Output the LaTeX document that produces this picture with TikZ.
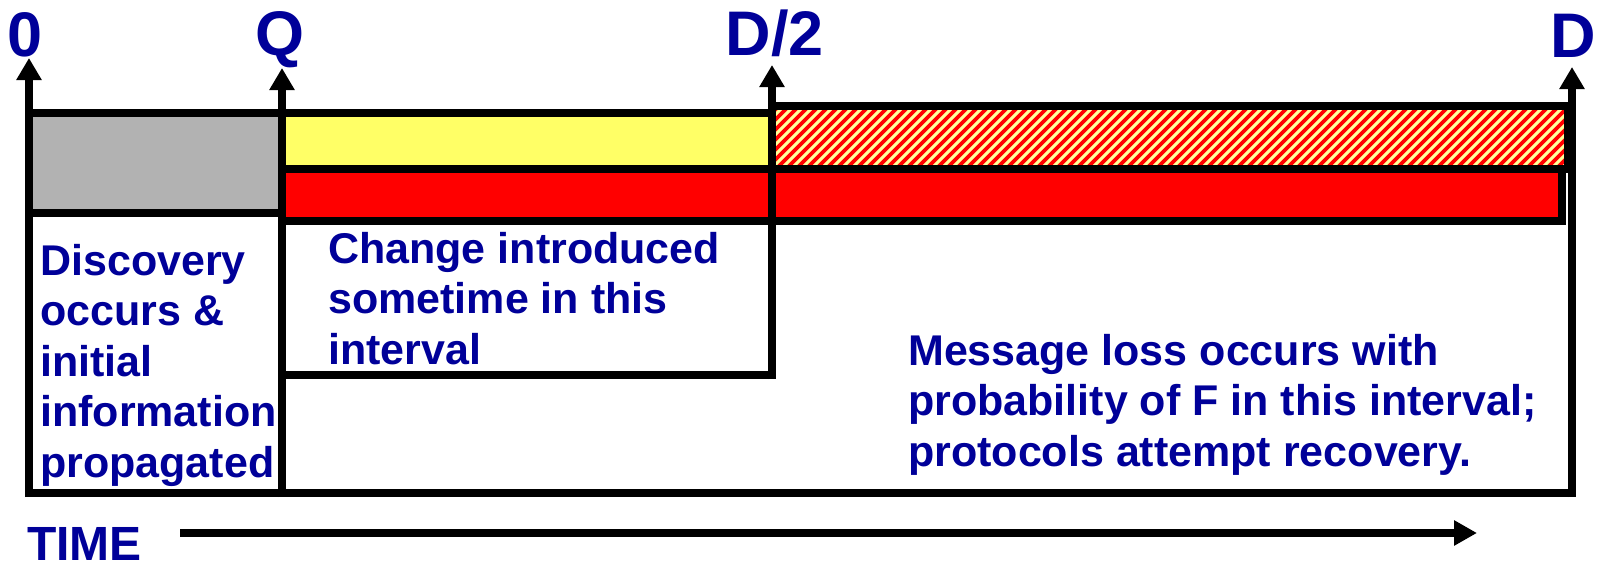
\documentclass[tikz,border=0pt]{standalone}
\usepackage{fontspec}
\setmainfont{Liberation Sans}
\usetikzlibrary{arrows.meta}
\definecolor{navy}{RGB}{0,0,153}
\definecolor{barGray}{RGB}{178,178,178}
\definecolor{barYellow}{RGB}{255,255,102}
\definecolor{hatchYellow}{RGB}{255,255,153}
\definecolor{barRed}{RGB}{255,0,0}
\tikzset{
  frame/.style={line width=8pt, draw=black},
  axis/.style={line width=8pt, draw=black, -{Triangle[width=24pt,length=22pt]}},
  tick/.style={text=navy, font=\fontsize{63}{63}\selectfont\bfseries, inner sep=0pt, anchor=base west},
  note/.style={text=navy, font=\fontsize{43}{50.5}\selectfont\bfseries, inner sep=0pt, anchor=base west},
}
\newcommand{\notebox}[2]{\parbox[t]{#1}{\raggedright #2}}
\begin{document}
\begin{tikzpicture}[x=1pt,y=-1pt]
\useasboundingbox (0,0) rectangle (1597,565);

% axis feet and tips
\coordinate (z-base) at (29,497);   \coordinate (z-tip) at (29,58);
\coordinate (q-base) at (282,497);  \coordinate (q-tip) at (282,68);
\coordinate (h-base) at (772,379);  \coordinate (h-tip) at (772,65);
\coordinate (d-base) at (1572,497); \coordinate (d-tip) at (1572,67);

% interval bars
\fill[barGray]   (29,113) rectangle (282,213);
\fill[barYellow] (282,113) rectangle (772,169);
\fill[barRed]    (282,169) rectangle (772,221);
\fill[hatchYellow] (772,106) rectangle (1568,169);
\begin{scope}
  \clip (772,106) rectangle (1568,169);
  \foreach \i in {690,700,...,1580}
    \draw[barRed, line width=3.6pt] (\i,175) -- (\i+75,100);
\end{scope}
\fill[barRed]    (772,169) rectangle (1562,221);

% outlines
\draw[frame] (29,113) rectangle (282,213);
\draw[frame] (282,113) rectangle (772,169);
\draw[frame] (282,169) rectangle (772,221);
\draw[frame] (772,106) rectangle (1568,169);
\draw[frame] (772,169) rectangle (1562,221);
\draw[frame] (282,375) -- (776,375);
\draw[frame] (25,493) -- (1576,493);

% time axes
\draw[axis] (z-base) -- (z-tip);
\draw[axis] (q-base) -- (q-tip);
\draw[axis] (h-base) -- (h-tip);
\draw[axis] (d-base) -- (d-tip);

\node[tick] (lab-z) at (7,56) {0};
\node[tick] (lab-q) at (255.5,55) {Q};
\node[tick] (lab-h) at (725.5,55) {D/2};
\node[tick] (lab-d) at (1550.5,57) {D};

% interval descriptions
\node[note] (txt-disc) at (40,275) {\notebox{240pt}{Discovery\\occurs \&\\initial\\information\\propagated}};
\node[note] (txt-chg) at (328,263) {\notebox{440pt}{Change introduced\\sometime in this\\interval}};
\node[note] (txt-loss) at (908,365) {\notebox{660pt}{Message loss occurs with\\probability of F in this interval;\\protocols attempt recovery.}};

% time direction
\node[text=navy, font=\fontsize{48}{48}\selectfont\bfseries, inner sep=0pt, anchor=base west] (time) at (27,560) {TIME};
\coordinate (t-start) at (180,533);
\coordinate (t-end) at (1477,533);
\draw[line width=8pt, -{Triangle[width=24pt,length=23pt]}] (t-start) -- (t-end);
\end{tikzpicture}
\end{document}
